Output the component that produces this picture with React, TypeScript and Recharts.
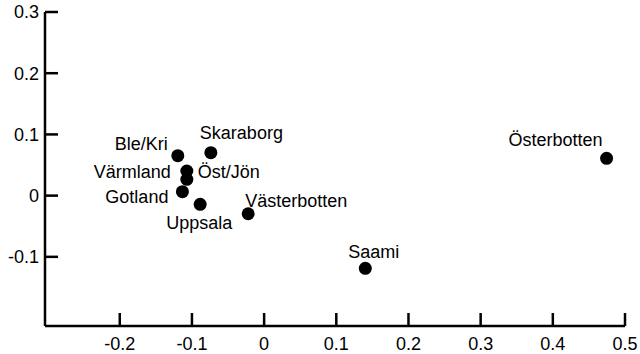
import { ScatterChart, Scatter, XAxis, YAxis } from 'recharts';

// PCA-style scatter of Swedish/Finnish regional samples
const regions = ['Ble/Kri', 'Skaraborg', 'Värmland', 'Öst/Jön', 'Gotland', 'Uppsala', 'Västerbotten', 'Saami', 'Österbotten'];
const xValues = [-0.1196, -0.0738, -0.1071, -0.1071, -0.1132, -0.0886, -0.0221, 0.1402, 0.4745];
const yValues = [0.0652, 0.0701, 0.0402, 0.0266, 0.0064, -0.0142, -0.0296, -0.1188, 0.0609];

const xTicks = [-0.2, -0.1, 0, 0.1, 0.2, 0.3, 0.4, 0.5];
const yTicks = [-0.1, 0, 0.1, 0.2, 0.3];

// where each label sits relative to its dot (baseline offset)
const labelPlacement: Record<string, { dx: number; dy: number; anchor: 'start' | 'end' }> = {
  'Ble/Kri': { dx: -10, dy: -6, anchor: 'end' },
  Skaraborg: { dx: -11, dy: -14, anchor: 'start' },
  'Värmland': { dx: -16, dy: 7, anchor: 'end' },
  'Öst/Jön': { dx: 11, dy: -1, anchor: 'start' },
  Gotland: { dx: -14, dy: 11, anchor: 'end' },
  Uppsala: { dx: -34, dy: 25, anchor: 'start' },
  'Västerbotten': { dx: -3, dy: -7, anchor: 'start' },
  Saami: { dx: -17, dy: -10, anchor: 'start' },
  'Österbotten': { dx: -4, dy: -12, anchor: 'end' },
};

const points = regions.map((name, i) => ({ name, x: xValues[i], y: yValues[i] }));

const FONT = '"Liberation Sans", Arial, sans-serif';

const Dot = (props: any) => {
  const { cx, cy, payload } = props;
  const p = labelPlacement[payload.name];
  return (
    <g>
      <circle cx={cx} cy={cy} r={6.5} fill="#000" />
      <text x={cx + p.dx} y={cy + p.dy} textAnchor={p.anchor} fontSize={18} fontFamily={FONT} fill="#000">
        {payload.name}
      </text>
    </g>
  );
};

export default function App() {
  return (
    <div style={{ position: 'absolute', left: 0, top: 0, width: 640, height: 354, background: '#fff' }}>
      <ScatterChart width={640} height={354} margin={{ top: 12, right: 15, bottom: 0, left: 0 }}>
        <XAxis
          type="number"
          dataKey="x"
          domain={[-0.3036, 0.5]}
          ticks={xTicks}
          allowDataOverflow
          height={28}
          axisLine={{ stroke: '#000', strokeWidth: 2.5 }}
          tickLine={{ stroke: '#000', strokeWidth: 2.5 }}
          tickSize={-13}
          tickMargin={24}
          tick={{ fill: '#000', fontSize: 18, fontFamily: FONT }}
        />
        <YAxis
          type="number"
          dataKey="y"
          domain={[-0.213, 0.3]}
          ticks={yTicks}
          allowDataOverflow
          width={45}
          axisLine={{ stroke: '#000', strokeWidth: 2.5 }}
          tickLine={{ stroke: '#000', strokeWidth: 2.5 }}
          tickSize={-13}
          tickMargin={19}
          tick={{ fill: '#000', fontSize: 18, fontFamily: FONT }}
        />
        <Scatter data={points} shape={<Dot />} isAnimationActive={false} />
      </ScatterChart>
    </div>
  );
}
